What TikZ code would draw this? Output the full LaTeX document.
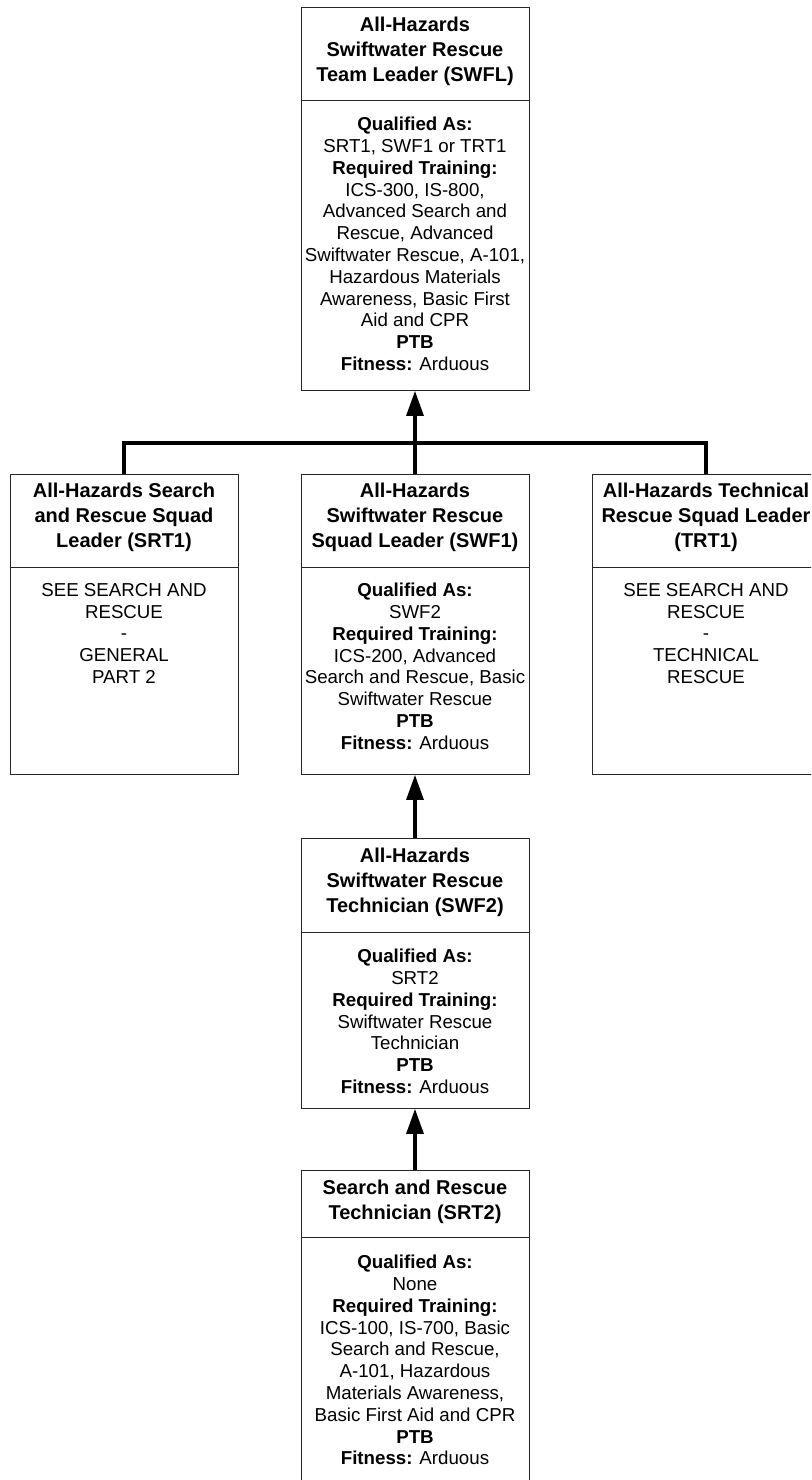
\documentclass[tikz,border=0pt]{standalone}
\usepackage{fontspec}
\setmainfont{Liberation Sans}
\usetikzlibrary{arrows.meta}

\begin{document}
\begin{tikzpicture}[
  x=1pt, y=-1pt,
  box/.style={draw=black!85, line width=0.9pt, minimum width=228pt,
              anchor=north, inner sep=0pt},
  ttl/.style={anchor=north, align=center, inner sep=0pt,
              font=\bfseries\fontsize{20}{25}\selectfont},
  body/.style={anchor=north, align=center, inner sep=0pt,
               font=\fontsize{18.7}{21.8}\selectfont},
  rule/.style={draw=black!85, line width=0.9pt},
  conn/.style={draw=black, line width=3.1pt},
  arr/.style={conn, -{Triangle[length=25pt,width=17pt]}}
]
\useasboundingbox (0,0) rectangle (811,1480);
\clip (0,0) rectangle (811,1480);

% ---- Team leader (top) ----
\node[box, minimum height=383pt] (swfl) at (415,7) {};
\draw[rule] ([yshift=-93pt]swfl.north west) -- ([yshift=-93pt]swfl.north east);
\node[ttl] (swfl-t) at ([yshift=-10pt]swfl.north)
  {All-Hazards\\Swiftwater Rescue\\Team Leader (SWFL)};
\node[body] (swfl-b) at ([yshift=-110pt]swfl.north)
  {\textbf{Qualified As:}\\SRT1, SWF1 or TRT1\\\textbf{Required Training:}\\
   ICS-300, IS-800,\\Advanced Search and\\Rescue, Advanced\\
   Swiftwater Rescue, A-101,\\Hazardous Materials\\Awareness, Basic First\\
   Aid and CPR\\\textbf{PTB}\\\textbf{Fitness:} Arduous};

% ---- Squad leaders (middle row) ----
\node[box, minimum height=300pt] (srt1) at (124,474) {};
\draw[rule] ([yshift=-93pt]srt1.north west) -- ([yshift=-93pt]srt1.north east);
\node[ttl] (srt1-t) at ([yshift=-9pt]srt1.north)
  {All-Hazards Search\\and Rescue Squad\\Leader (SRT1)};
\node[body] (srt1-b) at ([yshift=-109pt]srt1.north)
  {SEE SEARCH AND\\RESCUE\\-\\GENERAL\\PART 2};

\node[box, minimum height=300pt] (swf1) at (415,474) {};
\draw[rule] ([yshift=-93pt]swf1.north west) -- ([yshift=-93pt]swf1.north east);
\node[ttl] (swf1-t) at ([yshift=-9pt]swf1.north)
  {All-Hazards\\Swiftwater Rescue\\Squad Leader (SWF1)};
\node[body] (swf1-b) at ([yshift=-109pt]swf1.north)
  {\textbf{Qualified As:}\\SWF2\\\textbf{Required Training:}\\
   ICS-200, Advanced\\Search and Rescue, Basic\\Swiftwater Rescue\\
   \textbf{PTB}\\\textbf{Fitness:} Arduous};

\node[box, minimum height=300pt] (trt1) at (706,474) {};
\draw[rule] ([yshift=-93pt]trt1.north west) -- ([yshift=-93pt]trt1.north east);
\node[ttl] (trt1-t) at ([yshift=-9pt]trt1.north)
  {All-Hazards Technical\\Rescue Squad Leader\\(TRT1)};
\node[body] (trt1-b) at ([yshift=-109pt]trt1.north)
  {SEE SEARCH AND\\RESCUE\\-\\TECHNICAL\\RESCUE};

% ---- Technician ----
\node[box, minimum height=270pt] (swf2) at (415,838) {};
\draw[rule] ([yshift=-94pt]swf2.north west) -- ([yshift=-94pt]swf2.north east);
\node[ttl] (swf2-t) at ([yshift=-10pt]swf2.north)
  {All-Hazards\\Swiftwater Rescue\\Technician (SWF2)};
\node[body] (swf2-b) at ([yshift=-111pt]swf2.north)
  {\textbf{Qualified As:}\\SRT2\\\textbf{Required Training:}\\
   Swiftwater Rescue\\Technician\\\textbf{PTB}\\\textbf{Fitness:} Arduous};

% ---- Entry level ----
\node[box, minimum height=340pt] (srt2) at (415,1170) {};
\draw[rule] ([yshift=-67pt]srt2.north west) -- ([yshift=-67pt]srt2.north east);
\node[ttl] (srt2-t) at ([yshift=-10pt]srt2.north)
  {Search and Rescue\\Technician (SRT2)};
\node[body] (srt2-b) at ([yshift=-85pt]srt2.north)
  {\textbf{Qualified As:}\\None\\\textbf{Required Training:}\\
   ICS-100, IS-700, Basic\\Search and Rescue,\\A-101, Hazardous\\
   Materials Awareness,\\Basic First Aid and CPR\\\textbf{PTB}\\
   \textbf{Fitness:} Arduous};

% ---- Connectors ----
\coordinate (bus) at (415,443);
\draw[conn] (srt1.north) |- (bus) -| (trt1.north);
\draw[arr] (swf1.north) -- (swfl.south);
\draw[arr] (swf2.north) -- (swf1.south);
\draw[arr] (srt2.north) -- (swf2.south);
\end{tikzpicture}
\end{document}
